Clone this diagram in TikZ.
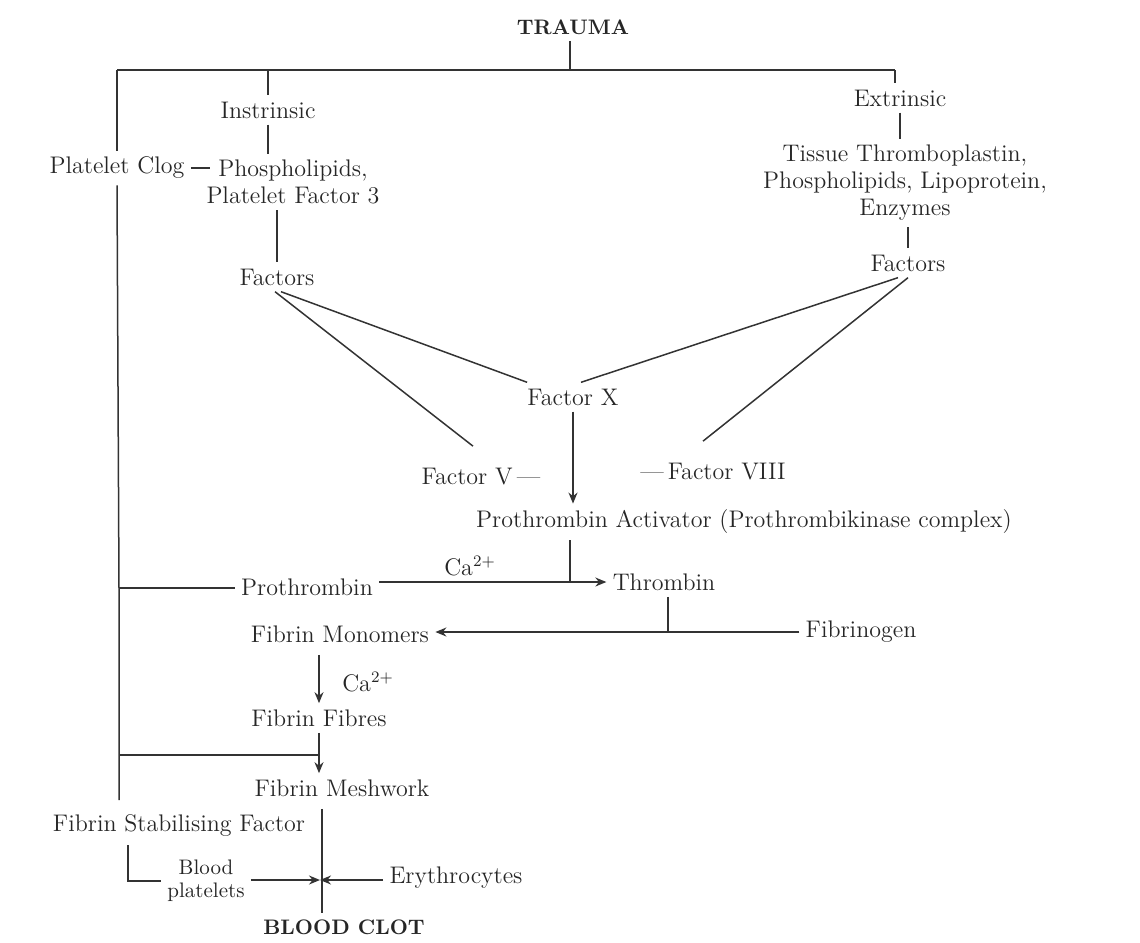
\documentclass[tikz,border=0pt]{standalone}
\usetikzlibrary{arrows.meta}
\tikzset{
  lbl/.style={inner sep=3pt, text=black!85, font=\fontsize{12}{13.5}\selectfont},
  lblsm/.style={lbl, font=\fontsize{10.5}{11.5}\selectfont},
  head/.style={lbl, font=\fontsize{10.5}{12}\selectfont\bfseries},
  link/.style={draw=black!80, line width=0.75pt},
  flow/.style={link, -{Stealth[length=5.5pt,width=4.5pt]}}
}
\begin{document}
\begin{tikzpicture}[x=0.5pt,y=-0.5pt]
  \useasboundingbox (0,0) rectangle (1140,942);
  % labels
  \node[head] (trauma) at (573,27) {TRAUMA};
  \node[lbl] (instr) at (268,110) {Instrinsic};
  \node[lbl] (extr) at (900,98) {Extrinsic};
  \node[lbl] (clog) at (117,168) {Platelet Clog};
  \node[lbl, align=center] (phos) at (293,182) {Phospholipids,\\Platelet Factor 3};
  \node[lbl, align=center] (tissue) at (905,183) {Tissue Thromboplastin,\\Phospholipids, Lipoprotein,\\Enzymes};
  \node[lbl] (facl) at (277,277) {Factors};
  \node[lbl] (facr) at (908,263) {Factors};
  \node[lbl] (facx) at (573,397) {Factor X};
  \node[lbl] (fv) at (481,477) {Factor V\,---};
  \node[lbl] (fviii) at (713,472) {---\,Factor VIII};
  \node[lbl] (pta) at (744,522) {Prothrombin Activator (Prothrombikinase complex)};
  \node[lbl] (ca1) at (470,566) {Ca$^{2+}$};
  \node[lbl] (pro) at (307,587) {Prothrombin};
  \node[lbl] (thr) at (664,582) {Thrombin};
  \node[lbl] (fgn) at (861,632) {Fibrinogen};
  \node[lbl] (fmon) at (340,634) {Fibrin Monomers};
  \node[lbl] (ca2) at (368,682) {Ca$^{2+}$};
  \node[lbl] (ffib) at (319,718) {Fibrin Fibres};
  \node[lbl] (fmesh) at (342,788) {Fibrin Meshwork};
  \node[lbl] (fsf) at (179,826) {Fibrin Stabilising Factor};
  \node[lblsm, align=center] (bplt) at (206,881) {Blood\\platelets};
  \node[lbl] (ery) at (456,878) {Erythrocytes};
  \node[head] (clot) at (344,927) {BLOOD CLOT};
  % junctions
  \coordinate (tl) at (117,70);
  \coordinate (tm) at (570,70);
  \coordinate (tr) at (895,70);
  \coordinate (bj1) at (119,588);
  \coordinate (bj2) at (119,755);
  \coordinate (bk) at (128,845);
  \coordinate (jc) at (322,880);
  % trauma branches
  \draw[link] (trauma.south -| tm) -- (tm);
  \draw[link] (tl) -- (tr);
  \draw[link] (tl -| instr) -- (instr.north);
  \draw[link] (tr) -- (extr.north -| tr);
  \draw[link] (tl) -- (clog.north -| tl);
  \draw[link] (clog.south -| tl) -- (bj1) -- (bj2) -- (119,800);
  % intrinsic side
  \draw[link] (instr.south) -- (phos.north -| instr);
  \draw[link] (clog.east) -- ([xshift=5pt]clog.east -| phos.west);
  \draw[link] (phos.south -| facl) -- (facl.north);
  \draw[link] ([xshift=2pt]facl.south) -- ([xshift=3pt]facx.north west);
  \draw[link] ([xshift=-1pt]facl.south) -- ([xshift=-4pt,yshift=8pt]fv.north);
  % extrinsic side
  \draw[link] (extr.south) -- (tissue.north -| extr);
  \draw[link] (tissue.south -| facr) -- (facr.north);
  \draw[link] ([xshift=-5pt]facr.south) -- ([xshift=4pt]facx.north);
  \draw[link] (facr.south) -- ([xshift=-5pt,yshift=8pt]fviii.north);
  % common pathway
  \draw[flow] (facx.south) -- (pta.north -| facx);
  \draw[link] (pta.south -| tm) -- (tm |- thr.west);
  \draw[link] (bj1) -- (bj1 -| pro.west);
  \draw[flow] (pro.east |- thr.west) -- (thr.west);
  \draw[link] ([xshift=2pt]thr.south) -- ([xshift=2pt]thr.south |- fgn.west);
  \draw[flow] (fgn.west) -- (fmon.east |- fgn.west);
  \draw[flow] ([yshift=-3pt]fmon.south -| ffib) -- (ffib.north);
  \draw[flow] (ffib.south) -- (ffib.south |- fmesh.north);
  \draw[link] (bj2) -- (bj2 -| ffib);
  % clot
  \draw[link] ([yshift=-3pt]fmesh.south -| jc) -- (clot.north -| jc);
  \draw[link] (bk) |- (bplt.west);
  \draw[flow, shorten >=1pt] (bplt.east |- jc) -- (jc);
  \draw[flow, shorten >=-1pt] (ery.west |- jc) -- (jc);
\end{tikzpicture}
\end{document}
